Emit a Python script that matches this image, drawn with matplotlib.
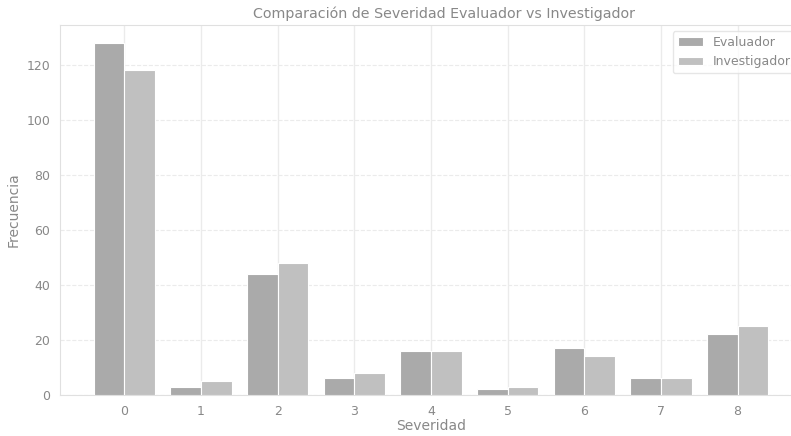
import numpy as np
import matplotlib
matplotlib.use("Agg")
import matplotlib.pyplot as plt

severidad = [0, 1, 2, 3, 4, 5, 6, 7, 8]
evaluador = [128, 3, 44, 6, 16, 2, 17, 6, 22]
investigador = [118, 5, 48, 8, 16, 3, 14, 6, 25]

text_color = "#888888"
spine_color = "#e0e0e0"

fig = plt.figure(figsize=(7.91, 4.36), dpi=100)
# axes run slightly past the right edge of the figure, as in the reference
ax = fig.add_axes([60 / 791, 41 / 436, 742 / 791, 370 / 436])

x = np.arange(len(severidad))
w = 0.4
ax.bar(x - w / 2, evaluador, width=w, color="#aaaaaa", edgecolor="white",
       linewidth=0.8, label="Evaluador", zorder=3)
ax.bar(x + w / 2, investigador, width=w, color="#c0c0c0", edgecolor="white",
       linewidth=0.8, label="Investigador", zorder=3)

ax.set_xticks(x)
ax.set_xticklabels([str(s) for s in severidad])
ax.set_xlim(-0.84, 8.84)
ax.set_ylim(0, 134.4)
ax.set_yticks([0, 20, 40, 60, 80, 100, 120])

ax.grid(axis="x", color="#ebebeb", linewidth=1, zorder=0)
ax.grid(axis="y", color="#ebebeb", linestyle="--", linewidth=0.8, zorder=0)

for s in ax.spines.values():
    s.set_color(spine_color)
ax.tick_params(colors=text_color, labelsize=9, length=0, pad=7)

ax.set_xlabel("Severidad", color=text_color, fontsize=10, labelpad=1)
ax.set_ylabel("Frecuencia", color=text_color, fontsize=10)
ax.set_title("Comparación de Severidad Evaluador vs Investigador",
             color=text_color, fontsize=10.3, pad=5, x=0.517)

leg = ax.legend(loc="upper right", fontsize=9, frameon=True)
leg.get_frame().set_edgecolor(spine_color)
for t in leg.get_texts():
    t.set_color(text_color)

fig.savefig("out.png", dpi=100)
